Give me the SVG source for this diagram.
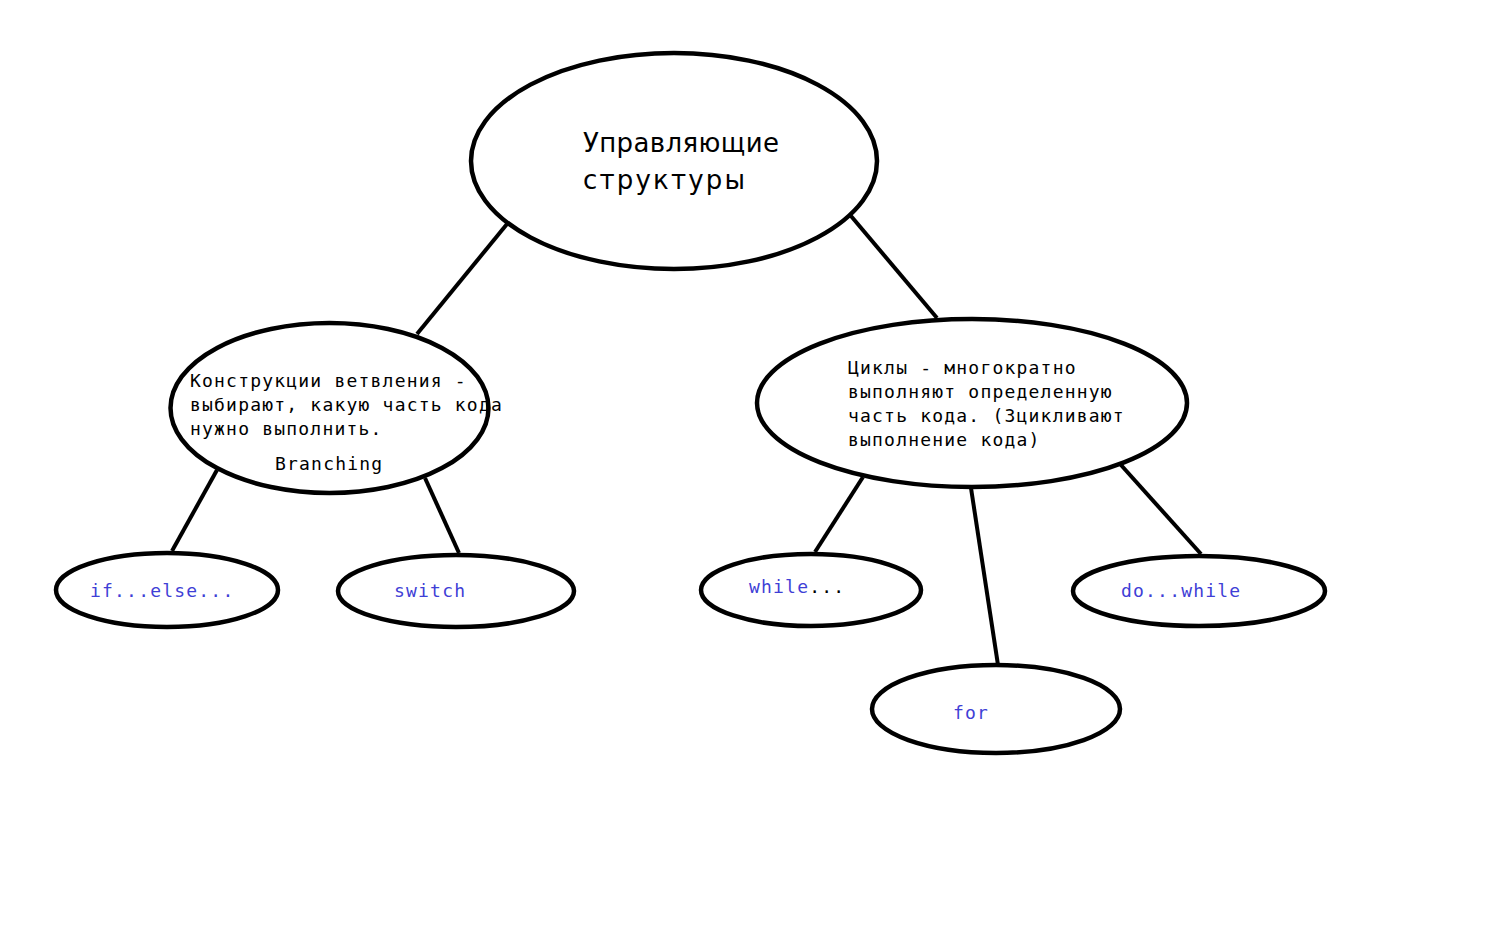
<svg xmlns="http://www.w3.org/2000/svg" width="1512" height="932" viewBox="0 0 1512 932">
<style>
.n{fill:#fff;stroke:#000;stroke-width:4.5}
.c line{stroke:#000;stroke-width:4}
.m{font-family:"DejaVu Sans Mono","Liberation Mono",monospace;font-size:18px;letter-spacing:1.2px;fill:#000}
.b{fill:#3f3fd6}
.t{font-family:"DejaVu Sans","Noto Sans",sans-serif;font-size:26px;fill:#000}
</style>
<rect width="1512" height="932" fill="#fff"/>
<g class="c" id="connectors">
<line x1="507" y1="224" x2="417" y2="334"/>
<line x1="851" y1="216" x2="937" y2="318"/>
<line x1="217" y1="470" x2="172" y2="551"/>
<line x1="425" y1="478" x2="459" y2="553"/>
<line x1="863" y1="477" x2="815" y2="552"/>
<line x1="971" y1="488" x2="998" y2="665"/>
<line x1="1121" y1="465" x2="1201" y2="554"/>
</g>
<g id="root">
<ellipse class="n" cx="674" cy="161" rx="203" ry="108"/>
<text class="t" x="583" y="152" textLength="196" lengthAdjust="spacing">Управляющие</text>
<text class="t" x="583" y="189" textLength="162" lengthAdjust="spacing">структуры</text>
</g>
<g id="branching">
<ellipse class="n" cx="329.5" cy="408" rx="159" ry="85"/>
<text class="m" x="190" y="387">Конструкции ветвления -</text>
<text class="m" x="190" y="411">выбирают, какую часть кода</text>
<text class="m" x="190" y="435">нужно выполнить.</text>
<text class="m" x="275" y="470">Branching</text>
</g>
<g id="loops">
<ellipse class="n" cx="972" cy="403" rx="215" ry="84"/>
<text class="m" x="848" y="374">Циклы - многократно</text>
<text class="m" x="848" y="398">выполняют определенную</text>
<text class="m" x="848" y="422">часть кода. (Зцикливают</text>
<text class="m" x="848" y="446">выполнение кода)</text>
</g>
<g id="ifelse">
<ellipse class="n" cx="167" cy="590" rx="111" ry="37"/>
<text class="m b" x="90" y="597">if...else...</text>
</g>
<g id="switch">
<ellipse class="n" cx="456" cy="591" rx="118" ry="36"/>
<text class="m b" x="394" y="597">switch</text>
</g>
<g id="while">
<ellipse class="n" cx="811" cy="590" rx="110" ry="36"/>
<text class="m" x="749" y="593"><tspan class="b">while</tspan>...</text>
</g>
<g id="dowhile">
<ellipse class="n" cx="1199" cy="591" rx="126" ry="35"/>
<text class="m b" x="1121" y="597">do...while</text>
</g>
<g id="for">
<ellipse class="n" cx="996" cy="709" rx="124" ry="44"/>
<text class="m b" x="953" y="719">for</text>
</g>
</svg>
